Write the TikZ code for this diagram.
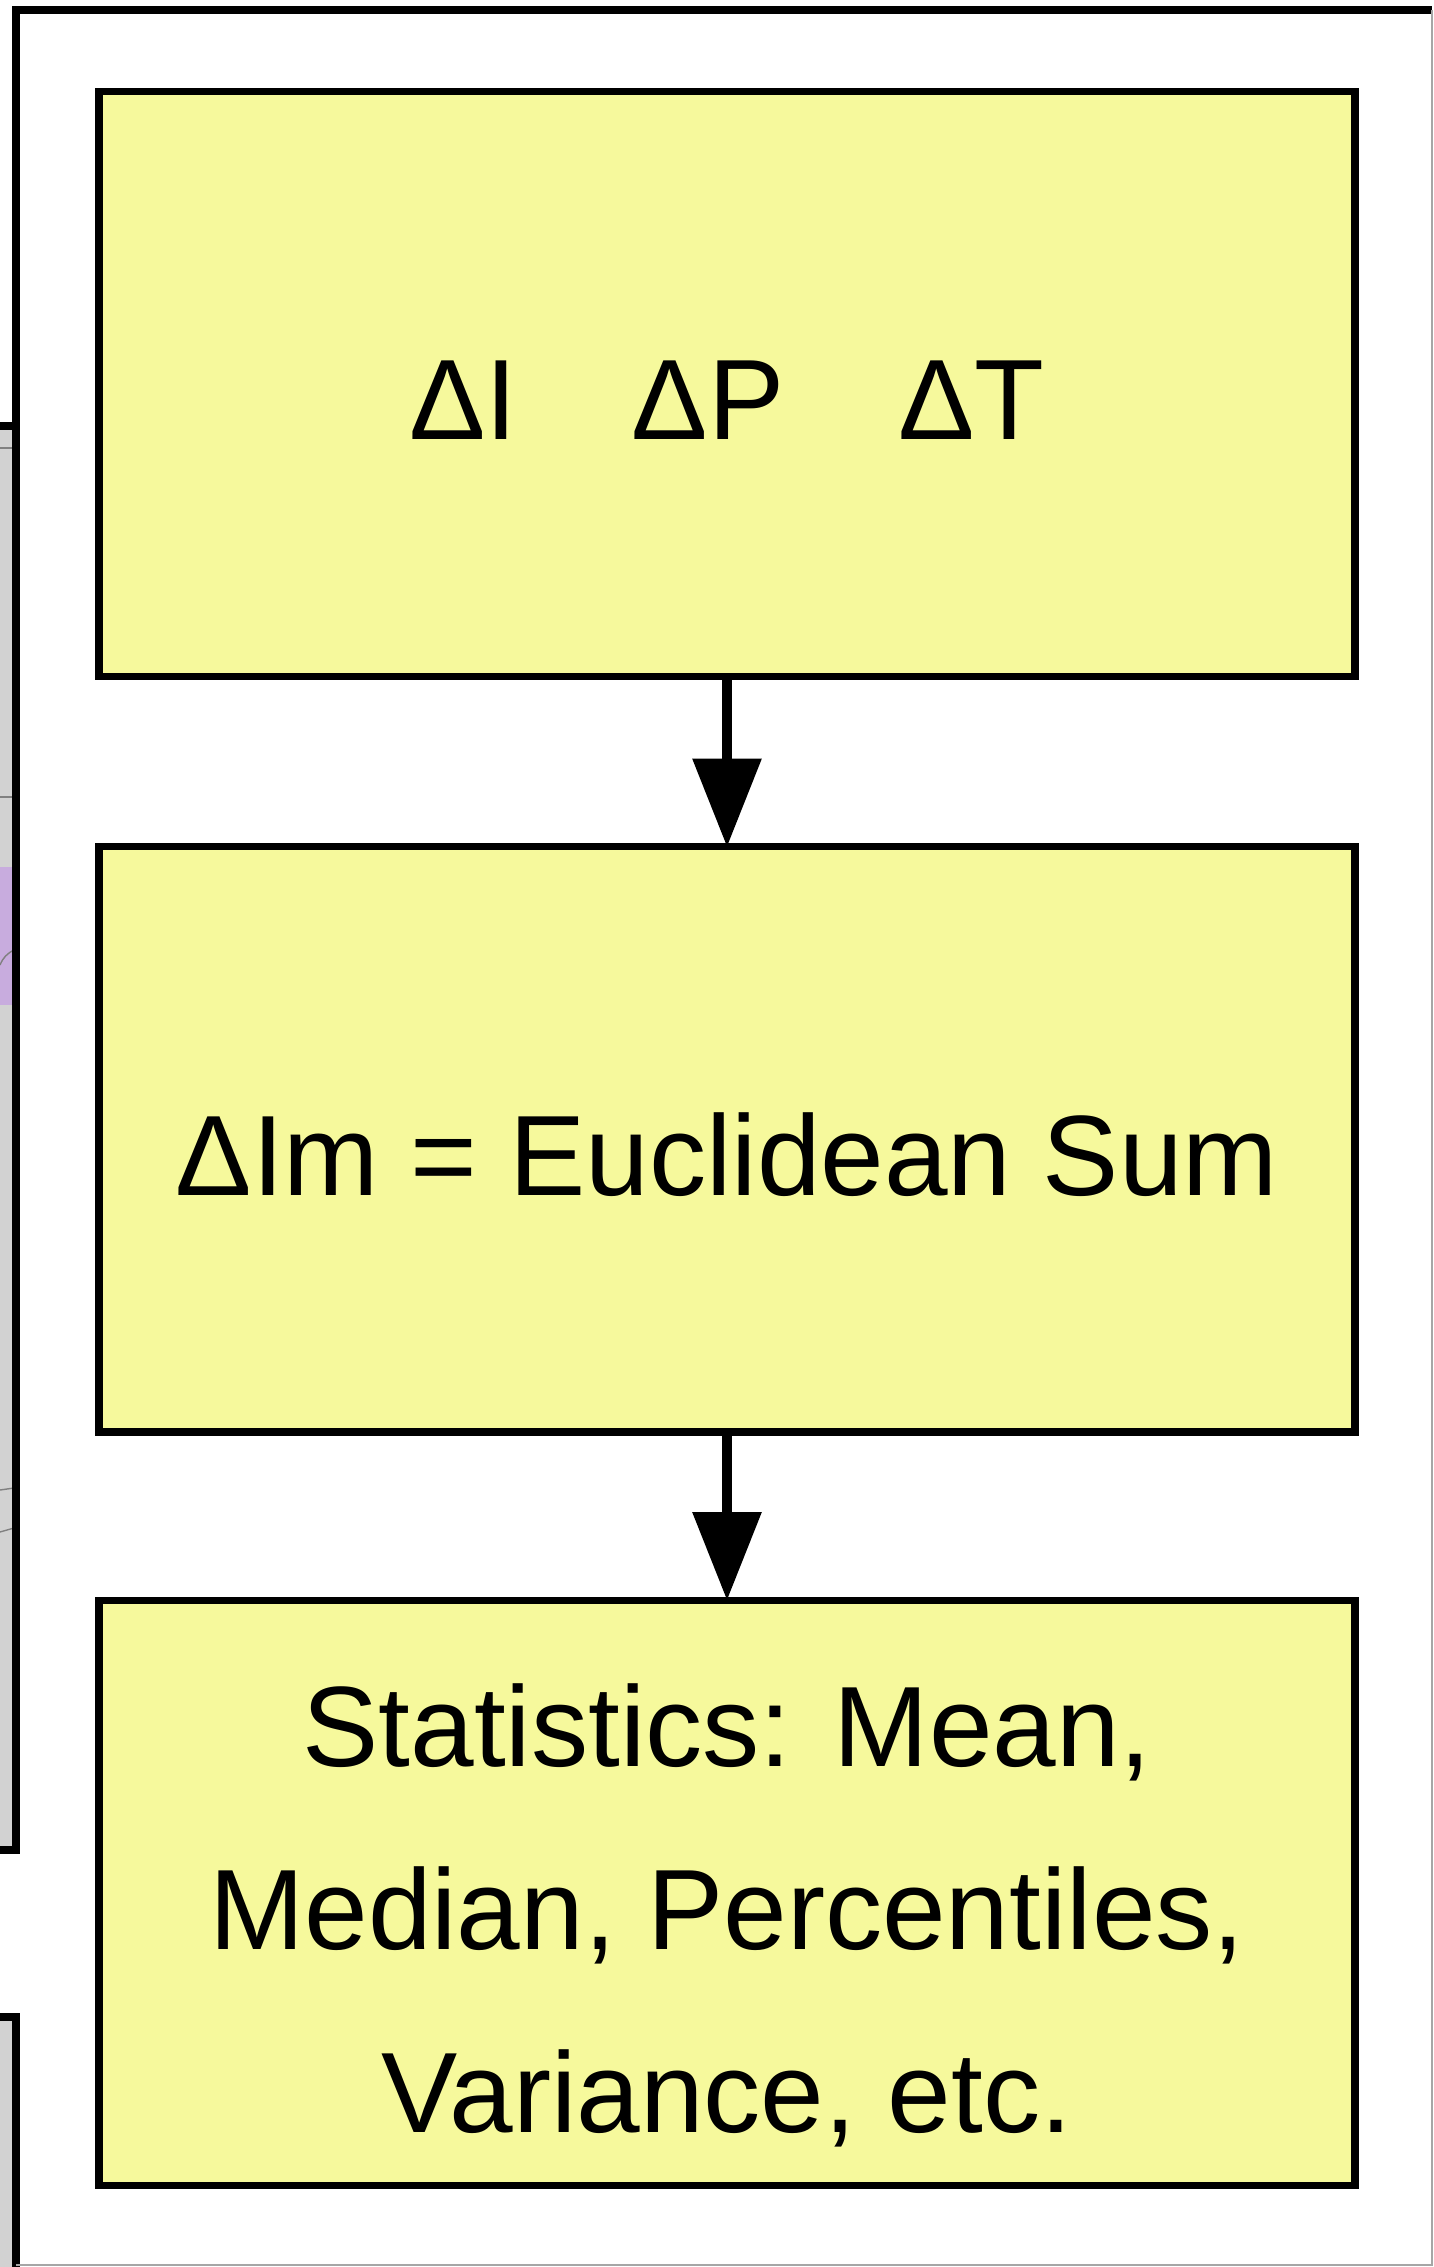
\documentclass[tikz,border=0pt]{standalone}
\usepackage{fontspec}
\setmainfont{Liberation Sans}
\usetikzlibrary{positioning,arrows.meta}
\definecolor{stagefill}{RGB}{246,249,156}
\definecolor{panelgray}{RGB}{210,210,210}
\definecolor{panelpurple}{RGB}{200,172,222}
\tikzset{
  stage/.style = {draw, line width = 2.1pt, fill = stagefill, outer sep = 0pt,
                  minimum width = 12.55cm, minimum height = 5.85cm,
                  align = center, text depth = 0pt, text height = 31.8pt,
                  font = \fontsize{32.5pt}{52pt}\selectfont},
  flow/.style = {line width = 2.6pt, -{Triangle[width = 6.7mm, length = 8.8mm]}}
}

\begin{document}
\begin{tikzpicture}[x = 0.01cm, y = -0.01cm]
  \useasboundingbox (0,0) rectangle (1434,2267);
  % neighbour panels cut by the left edge
  \fill [panelgray] (0,426) rectangle (16,1850);
  \fill [panelpurple] (0,867) rectangle (16,1005);
  \draw [gray, thin] (0,448) -- (16,448);
  \draw [gray, thin] (0,797) -- (16,797);
  \draw [gray, thin] (0,965) to [bend left = 20] (14,950);
  \draw [gray, thin] (0,1490) -- (14,1488);
  \draw [gray, thin] (0,1532) -- (14,1528);
  \draw [line width = 2.1pt] (0,426) -- (16,426) -- (16,1850) -- (0,1850);
  \fill [panelgray] (0,2017) rectangle (16,2267);
  \draw [line width = 2.1pt] (0,2017) -- (16,2017) -- (16,2267);
  % frame
  \draw [line width = 2.1pt] (16,426) -- (16,10) -- (1432,10);
  \draw [gray!70] (1432,10) -- (1432,2265) -- (16,2265);
  % stages
  \node [stage] (deltas) at (727,384) {ΔI\quad ΔP\quad ΔT};
  \node [stage, below = 1.7cm of deltas] (euclid) {ΔIm = Euclidean Sum};
  \node [stage, below = 1.68cm of euclid, text height = 136pt] (stats)
    {Statistics: Mean,\\ Median, Percentiles,\\ Variance, etc.};
  \draw [flow] (deltas) -- (euclid);
  \draw [flow] (euclid) -- (stats);
\end{tikzpicture}
\end{document}
